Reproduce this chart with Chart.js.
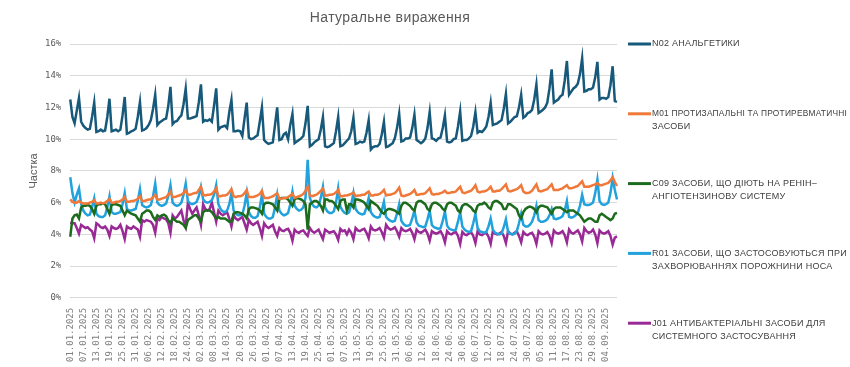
<!DOCTYPE html>
<html>
<head>
<meta charset="utf-8">
<script src="https://cdn.jsdelivr.net/npm/chart.js@4/dist/chart.umd.min.js"></script>
<style>
html,body{margin:0;padding:0;background:#ffffff;}
#wrap{width:850px;height:367px;position:relative;}
</style>
</head>
<body>
<div id="wrap"><canvas id="c" width="850" height="367"></canvas></div>
<script>
const chartTitle = 'Натуральне вираження';
const yAxisTitle = 'Частка';
const yTicks = [0, 2, 4, 6, 8, 10, 12, 14, 16];

const dates = [
'01.01.2025','02.01.2025','03.01.2025','04.01.2025','05.01.2025','06.01.2025','07.01.2025','08.01.2025','09.01.2025','10.01.2025','11.01.2025','12.01.2025','13.01.2025','14.01.2025','15.01.2025','16.01.2025','17.01.2025','18.01.2025','19.01.2025','20.01.2025','21.01.2025','22.01.2025','23.01.2025','24.01.2025','25.01.2025','26.01.2025','27.01.2025','28.01.2025','29.01.2025','30.01.2025','31.01.2025',
'01.02.2025','02.02.2025','03.02.2025','04.02.2025','05.02.2025','06.02.2025','07.02.2025','08.02.2025','09.02.2025','10.02.2025','11.02.2025','12.02.2025','13.02.2025','14.02.2025','15.02.2025','16.02.2025','17.02.2025','18.02.2025','19.02.2025','20.02.2025','21.02.2025','22.02.2025','23.02.2025','24.02.2025','25.02.2025','26.02.2025','27.02.2025','28.02.2025',
'01.03.2025','02.03.2025','03.03.2025','04.03.2025','05.03.2025','06.03.2025','07.03.2025','08.03.2025','09.03.2025','10.03.2025','11.03.2025','12.03.2025','13.03.2025','14.03.2025','15.03.2025','16.03.2025','17.03.2025','18.03.2025','19.03.2025','20.03.2025','21.03.2025','22.03.2025','23.03.2025','24.03.2025','25.03.2025','26.03.2025','27.03.2025','28.03.2025','29.03.2025','30.03.2025','31.03.2025',
'01.04.2025','02.04.2025','03.04.2025','04.04.2025','05.04.2025','06.04.2025','07.04.2025','08.04.2025','09.04.2025','10.04.2025','11.04.2025','12.04.2025','13.04.2025','14.04.2025','15.04.2025','16.04.2025','17.04.2025','18.04.2025','19.04.2025','20.04.2025','21.04.2025','22.04.2025','23.04.2025','24.04.2025','25.04.2025','26.04.2025','27.04.2025','28.04.2025','29.04.2025','30.04.2025',
'01.05.2025','02.05.2025','03.05.2025','04.05.2025','05.05.2025','06.05.2025','07.05.2025','08.05.2025','09.05.2025','10.05.2025','11.05.2025','12.05.2025','13.05.2025','14.05.2025','15.05.2025','16.05.2025','17.05.2025','18.05.2025','19.05.2025','20.05.2025','21.05.2025','22.05.2025','23.05.2025','24.05.2025','25.05.2025','26.05.2025','27.05.2025','28.05.2025','29.05.2025','30.05.2025','31.05.2025',
'01.06.2025','02.06.2025','03.06.2025','04.06.2025','05.06.2025','06.06.2025','07.06.2025','08.06.2025','09.06.2025','10.06.2025','11.06.2025','12.06.2025','13.06.2025','14.06.2025','15.06.2025','16.06.2025','17.06.2025','18.06.2025','19.06.2025','20.06.2025','21.06.2025','22.06.2025','23.06.2025','24.06.2025','25.06.2025','26.06.2025','27.06.2025','28.06.2025','29.06.2025','30.06.2025',
'01.07.2025','02.07.2025','03.07.2025','04.07.2025','05.07.2025','06.07.2025','07.07.2025','08.07.2025','09.07.2025','10.07.2025','11.07.2025','12.07.2025','13.07.2025','14.07.2025','15.07.2025','16.07.2025','17.07.2025','18.07.2025','19.07.2025','20.07.2025','21.07.2025','22.07.2025','23.07.2025','24.07.2025','25.07.2025','26.07.2025','27.07.2025','28.07.2025','29.07.2025','30.07.2025','31.07.2025',
'01.08.2025','02.08.2025','03.08.2025','04.08.2025','05.08.2025','06.08.2025','07.08.2025','08.08.2025','09.08.2025','10.08.2025','11.08.2025','12.08.2025','13.08.2025','14.08.2025','15.08.2025','16.08.2025','17.08.2025','18.08.2025','19.08.2025','20.08.2025','21.08.2025','22.08.2025','23.08.2025','24.08.2025','25.08.2025','26.08.2025','27.08.2025','28.08.2025','29.08.2025','30.08.2025','31.08.2025',
'01.09.2025','02.09.2025','03.09.2025','04.09.2025','05.09.2025','06.09.2025','07.09.2025','08.09.2025','09.09.2025'
];

const seriesNames = [
  ['N02 АНАЛЬГЕТИКИ'],
  ['M01 ПРОТИЗАПАЛЬНІ ТА ПРОТИРЕВМАТИЧНІ', 'ЗАСОБИ'],
  ['C09 ЗАСОБИ, ЩО ДІЮТЬ НА РЕНІН–', 'АНГІОТЕНЗИНОВУ СИСТЕМУ'],
  ['R01 ЗАСОБИ, ЩО ЗАСТОСОВУЮТЬСЯ ПРИ', 'ЗАХВОРЮВАННЯХ ПОРОЖНИНИ НОСА'],
  ['J01 АНТИБАКТЕРІАЛЬНІ ЗАСОБИ ДЛЯ', 'СИСТЕМНОГО ЗАСТОСУВАННЯ']
];

const n02 = [
12.5,11.4,11.0,11.8,12.6,
11.1,10.85,10.7,10.6,10.65,11.4,12.3,
10.45,10.5,10.6,10.5,10.55,11.4,12.55,
10.5,10.55,10.6,10.5,10.6,11.5,12.66,
10.35,10.4,10.5,10.55,10.65,11.4,12.34,
10.55,10.6,10.7,10.9,11.2,11.9,12.8,
10.9,11.05,11.15,11.25,11.3,12.1,13.3,
10.95,11.1,11.15,11.35,11.5,12.2,13.18,
11.3,11.3,11.35,11.4,11.45,12.3,13.46,
11.1,11.2,11.15,11.25,11.1,12.1,13.2,
10.6,10.75,10.8,10.85,10.7,11.7,12.47,
10.5,10.5,10.55,10.5,10.2,11.3,12.3,
10.1,10.0,10.05,10.15,10.25,11.1,12.0,
9.95,9.8,9.7,9.75,9.8,10.9,12.0,
9.95,10.0,10.3,10.4,10.0,10.9,11.6,
9.75,9.85,9.95,10.05,10.2,11.0,12.1,
9.55,9.65,9.8,9.9,10.0,10.6,11.4,
9.55,9.5,9.55,9.65,9.75,10.5,11.4,
9.55,9.6,9.75,9.9,10.05,10.5,11.35,
9.7,9.75,9.85,9.8,9.85,10.4,11.2,
9.35,9.5,9.55,9.55,9.7,10.3,11.1,
9.5,9.55,9.65,9.75,10.05,10.7,11.6,
9.85,9.9,10.05,10.05,10.1,10.7,11.55,
9.95,9.85,9.75,9.85,10.05,10.7,11.7,
10.05,10.0,9.9,10.05,10.1,10.7,11.5,
9.85,9.8,9.85,10.0,10.05,10.8,11.75,
9.9,9.95,9.95,10.05,10.2,10.8,11.7,
10.4,10.5,10.45,10.6,10.8,11.4,12.3,
10.9,10.95,11.0,11.1,11.2,11.9,12.85,
11.0,11.1,11.25,11.4,11.45,12.0,12.8,
11.35,11.45,11.65,11.7,11.85,12.5,13.45,
11.65,11.75,11.85,12.0,12.3,13.2,14.4,
12.3,12.4,12.5,12.7,12.8,13.7,14.93,
12.8,13.0,13.2,13.3,13.5,14.1,15.1,
13.0,13.05,13.15,13.15,13.25,13.9,14.87,
12.5,12.6,12.6,12.55,12.65,13.4,14.6,
12.4,12.35
];

const m01 = [
6.2,6.05,6.0,6.0,6.1,
6.0,5.95,5.95,5.95,6.0,6.05,6.15,
5.95,5.95,6.0,5.95,6.0,6.1,6.25,
6.0,6.0,6.05,6.05,6.1,6.2,6.35,
6.05,6.05,6.1,6.1,6.15,6.25,6.4,
6.1,6.1,6.15,6.2,6.2,6.35,6.5,
6.2,6.2,6.25,6.3,6.35,6.5,6.7,
6.35,6.35,6.4,6.45,6.5,6.6,6.8,
6.5,6.5,6.55,6.6,6.6,6.8,7.0,
6.5,6.45,6.5,6.5,6.55,6.7,6.9,
6.4,6.4,6.45,6.45,6.5,6.65,6.85,
6.4,6.35,6.4,6.4,6.45,6.6,6.8,
6.35,6.35,6.35,6.4,6.45,6.55,6.75,
6.3,6.3,6.3,6.35,6.4,6.5,6.6,
6.25,6.25,6.3,6.3,6.35,6.45,6.55,
6.3,6.35,6.4,6.45,6.55,6.75,7.0,
6.45,6.4,6.45,6.5,6.6,6.75,6.9,
6.45,6.45,6.5,6.5,6.55,6.65,6.8,
6.4,6.4,6.45,6.45,6.5,6.55,6.65,
6.4,6.45,6.45,6.5,6.5,6.6,6.7,
6.45,6.45,6.5,6.5,6.55,6.65,6.8,
6.45,6.5,6.5,6.55,6.6,6.75,6.95,
6.45,6.4,6.45,6.5,6.55,6.65,6.8,
6.5,6.5,6.55,6.55,6.6,6.75,6.9,
6.55,6.5,6.55,6.55,6.6,6.65,6.75,
6.6,6.6,6.65,6.65,6.7,6.85,7.0,
6.65,6.6,6.65,6.7,6.75,6.9,7.1,
6.7,6.65,6.7,6.7,6.75,6.85,7.0,
6.7,6.7,6.75,6.75,6.85,7.0,7.15,
6.75,6.7,6.75,6.8,6.85,6.95,7.1,
6.7,6.6,6.6,6.65,6.75,6.95,7.15,
6.75,6.7,6.75,6.8,6.85,7.0,7.15,
6.8,6.8,6.8,6.85,6.9,7.0,7.1,
6.9,6.9,6.95,7.0,7.05,7.2,7.35,
7.0,7.0,7.0,7.05,7.1,7.15,7.25,
7.1,7.1,7.15,7.2,7.25,7.4,7.6,
7.3,7.05
];

const c09 = [
3.85,5.0,5.2,5.25,5.0,
5.7,5.8,5.8,5.85,5.8,5.6,5.3,
5.8,5.9,5.9,5.95,5.9,5.6,5.3,
5.85,5.9,5.9,5.85,5.8,5.5,5.2,
5.5,5.4,5.3,5.25,5.2,5.0,4.8,
5.3,5.4,5.5,5.5,5.4,5.1,4.9,
5.2,5.1,5.2,5.25,5.15,4.9,4.7,
5.0,4.9,4.8,4.8,4.7,4.6,4.4,
4.9,5.0,5.1,5.2,5.2,5.0,4.8,
5.4,5.5,5.5,5.5,5.4,5.2,5.0,
5.1,5.0,5.0,5.0,4.9,4.8,4.8,
5.3,5.4,5.4,5.35,5.3,5.2,5.0,
5.6,5.7,5.7,5.65,5.6,5.5,5.3,
5.9,6.0,6.0,5.95,5.9,5.7,5.5,
6.2,6.3,6.3,6.3,6.2,6.0,5.8,
6.2,6.3,6.25,6.2,6.1,5.9,4.3,
5.9,6.0,6.1,6.1,6.0,5.8,5.5,
6.2,6.2,6.1,6.1,6.0,5.8,5.6,
6.1,6.2,6.2,5.5,5.9,5.9,5.7,
6.2,6.2,6.15,6.1,6.0,5.8,5.6,
6.1,6.0,5.9,5.8,5.6,5.4,5.3,
5.5,5.6,5.6,5.55,5.5,5.4,5.3,
5.8,6.0,6.0,5.9,5.8,5.6,5.5,
6.0,6.1,6.1,6.0,5.9,5.6,5.5,
5.9,6.0,6.0,5.9,5.8,5.6,5.5,
5.9,6.0,6.0,5.9,5.8,5.5,5.4,
5.8,5.9,5.9,5.8,5.7,5.5,5.4,
5.8,5.9,5.9,6.0,5.9,5.7,5.6,
6.0,6.1,6.1,6.0,5.9,5.6,5.6,
5.9,5.9,5.8,5.7,5.6,5.2,5.0,
5.4,5.6,5.7,5.75,5.7,5.6,5.4,
5.7,5.8,5.8,5.75,5.7,5.5,5.3,
5.6,5.7,5.7,5.7,5.6,5.5,5.4,
5.5,5.5,5.5,5.4,5.3,5.2,5.0,
4.8,4.9,5.0,5.0,4.9,4.8,4.8,
5.2,5.3,5.2,5.1,5.0,4.9,5.0,
5.3,5.35
];

const r01 = [
7.6,6.6,6.0,6.5,6.9,
5.9,5.5,5.3,5.2,5.25,5.7,6.27,
5.3,5.15,5.1,5.1,5.2,5.7,6.4,
5.4,5.3,5.3,5.35,5.4,5.9,6.6,
5.6,5.5,5.5,5.55,5.6,6.1,6.85,
5.85,5.75,5.7,5.75,5.85,6.4,7.2,
6.0,5.85,5.8,5.85,5.95,6.4,7.1,
6.0,5.85,5.8,5.85,6.0,6.5,7.2,
6.1,5.95,5.9,5.95,6.05,6.4,7.0,
6.2,6.05,6.0,6.05,6.15,6.5,7.1,
5.9,5.6,5.45,5.4,5.5,5.9,6.6,
5.5,5.3,5.2,5.2,5.25,5.8,6.6,
5.4,5.15,5.05,5.05,5.15,5.7,6.5,
5.3,5.1,5.0,5.0,5.1,5.7,6.5,
5.5,5.3,5.2,5.25,5.35,5.9,6.7,
5.8,5.6,5.5,5.55,5.7,6.3,8.7,
6.3,5.9,5.75,5.7,5.8,6.3,7.0,
5.7,5.45,5.35,5.35,5.45,6.0,6.9,
5.75,5.5,5.35,5.3,5.4,5.9,6.6,
5.6,5.4,5.3,5.25,5.3,5.7,6.3,
5.4,5.2,5.1,5.05,5.1,5.5,6.05,
5.1,4.95,4.85,4.8,4.85,5.3,5.9,
4.85,4.65,4.55,4.55,4.6,5.0,5.5,
4.75,4.55,4.5,4.45,4.5,4.95,5.5,
4.6,4.45,4.4,4.35,4.4,4.85,5.45,
4.55,4.35,4.3,4.25,4.3,4.8,5.4,
4.5,4.3,4.2,4.15,4.2,4.7,5.3,
4.4,4.2,4.15,4.1,4.15,4.5,5.0,
4.3,4.1,4.05,4.0,4.05,4.45,4.95,
4.15,4.05,4.0,4.05,4.2,4.7,5.3,
4.6,4.5,4.5,4.6,4.8,5.2,5.8,
4.9,4.8,4.8,4.85,4.95,5.2,5.6,
5.0,4.95,5.0,5.05,5.15,5.5,6.1,
5.1,5.05,5.1,5.2,5.35,5.8,6.5,
5.9,5.85,5.85,5.9,6.0,6.6,7.45,
6.1,5.9,5.85,5.9,6.0,6.6,7.55,
6.8,6.2
];

const j01 = [
4.75,4.7,4.7,4.4,4.05,
4.6,4.5,4.4,4.45,4.3,4.2,3.75,
4.7,4.6,4.45,4.4,4.5,4.3,3.9,
4.5,4.4,4.35,4.4,4.6,4.2,3.7,
4.5,4.4,4.35,4.5,4.4,4.3,3.85,
4.9,4.8,4.9,4.85,4.8,4.6,4.1,
5.0,4.9,5.1,5.0,4.95,4.7,4.1,
5.2,5.0,5.1,5.3,5.5,4.9,4.5,
6.0,5.6,5.3,5.5,5.7,5.2,4.6,
5.9,5.6,5.5,5.6,6.0,5.4,4.8,
5.5,5.3,5.2,5.3,5.4,5.0,4.5,
5.2,5.0,4.9,5.0,5.1,4.7,4.3,
4.9,4.7,4.6,4.7,4.8,4.4,3.9,
4.7,4.5,4.4,4.5,4.6,4.2,3.9,
4.4,4.25,4.2,4.3,4.35,4.1,3.6,
4.3,4.15,4.1,4.2,4.25,4.05,3.9,
4.4,4.2,4.1,4.2,4.3,4.0,3.7,
4.3,4.2,4.1,4.15,4.2,4.0,3.65,
4.35,4.2,4.25,4.0,4.3,4.1,3.7,
4.4,4.25,4.2,4.3,4.35,4.1,3.75,
4.5,4.3,4.25,4.3,4.4,4.15,3.8,
4.6,4.4,4.3,4.35,4.45,4.2,3.85,
4.4,4.25,4.2,4.25,4.35,4.1,3.7,
4.3,4.15,4.1,4.2,4.3,4.05,3.6,
4.2,4.1,4.05,4.1,4.2,3.95,3.5,
4.2,4.05,4.0,4.1,4.15,3.9,3.4,
4.15,4.0,3.95,4.05,4.15,3.9,3.45,
4.2,4.0,3.95,4.05,4.1,3.85,3.4,
4.2,4.05,4.0,4.05,4.15,3.9,3.45,
4.2,4.05,4.0,4.1,4.2,3.9,3.5,
4.15,4.0,3.95,4.05,4.1,3.85,3.4,
4.2,4.05,4.0,4.05,4.15,3.9,3.45,
4.25,4.1,4.05,4.1,4.2,3.95,3.5,
4.3,4.1,4.05,4.15,4.25,4.0,3.55,
4.4,4.2,4.1,4.15,4.3,4.0,3.45,
4.25,4.1,4.05,4.1,4.2,3.9,3.35,
3.8,3.87
];

const seriesValues = [n02, m01, c09, r01, j01];
const seriesColors = ['#17597a', '#f0793a', '#1d6b1d', '#21a2dc', '#992a95'];

const titlePlugin = {
  id: 'customTitle',
  afterDraw(chart) {
    const ctx = chart.ctx;
    const area = chart.chartArea;
    ctx.save();
    ctx.font = '14px "Liberation Sans"';
    ctx.letterSpacing = '0.4px';
    ctx.fillStyle = '#595959';
    ctx.textAlign = 'center';
    ctx.textBaseline = 'middle';
    ctx.fillText(chartTitle, 390, 18);
    ctx.letterSpacing = '0px';
    ctx.font = '11px "Liberation Sans"';
    ctx.translate(34, (area.top + area.bottom) / 2);
    ctx.rotate(-Math.PI / 2);
    ctx.fillText(yAxisTitle, 0, 0);
    ctx.restore();
  }
};

const legendPlugin = {
  id: 'sideLegend',
  afterDraw(chart) {
    const ctx = chart.ctx;
    ctx.save();
    ctx.font = '9px "Liberation Sans"';
    ctx.letterSpacing = '0.25px';
    ctx.fillStyle = '#404040';
    ctx.textAlign = 'left';
    ctx.textBaseline = 'middle';
    chart.data.datasets.forEach((ds, i) => {
      const y = 44 + i * 69.8;
      ctx.strokeStyle = ds.borderColor;
      ctx.lineWidth = 3;
      ctx.beginPath();
      ctx.moveTo(628, y);
      ctx.lineTo(651, y);
      ctx.stroke();
      seriesNames[i].forEach((t, j) => ctx.fillText(t, 652, y + j * 13, 195));
    });
    ctx.letterSpacing = '0px';
    ctx.restore();
  }
};

const datasets = seriesValues.map((vals, i) => ({
  label: seriesNames[i].join(' '),
  data: vals,
  borderColor: seriesColors[i],
  backgroundColor: seriesColors[i],
  borderWidth: 2.5,
  pointRadius: 0,
  tension: 0,
  fill: false,
  order: i + 1
}));

new Chart(document.getElementById('c'), {
  type: 'line',
  data: { labels: dates, datasets: datasets },
  options: {
    responsive: false,
    animation: false,
    devicePixelRatio: 1,
    layout: { padding: { left: 36, right: 233, top: 44, bottom: 3 } },
    plugins: {
      legend: { display: false },
      title: { display: false },
      tooltip: { enabled: false }
    },
    scales: {
      x: {
        type: 'category',
        grid: { display: false },
        border: { display: false },
        ticks: {
          autoSkip: false,
          maxRotation: 90,
          minRotation: 90,
          padding: 2,
          color: '#7f7f7f',
          font: { family: '"DejaVu Sans Mono"', size: 9 },
          callback: function(value, index) { return index % 6 === 0 ? dates[index] : ''; }
        }
      },
      y: {
        min: yTicks[0],
        max: yTicks[yTicks.length - 1],
        border: { display: false },
        grid: { color: '#d9d9d9', lineWidth: 1, drawTicks: false },
        ticks: {
          stepSize: 2,
          padding: 9,
          color: '#595959',
          font: { family: '"DejaVu Sans Mono"', size: 9 },
          callback: function(v) { return v + '%'; }
        },
        title: { display: false }
      }
    }
  },
  plugins: [titlePlugin, legendPlugin]
});
</script>
</body>
</html>
